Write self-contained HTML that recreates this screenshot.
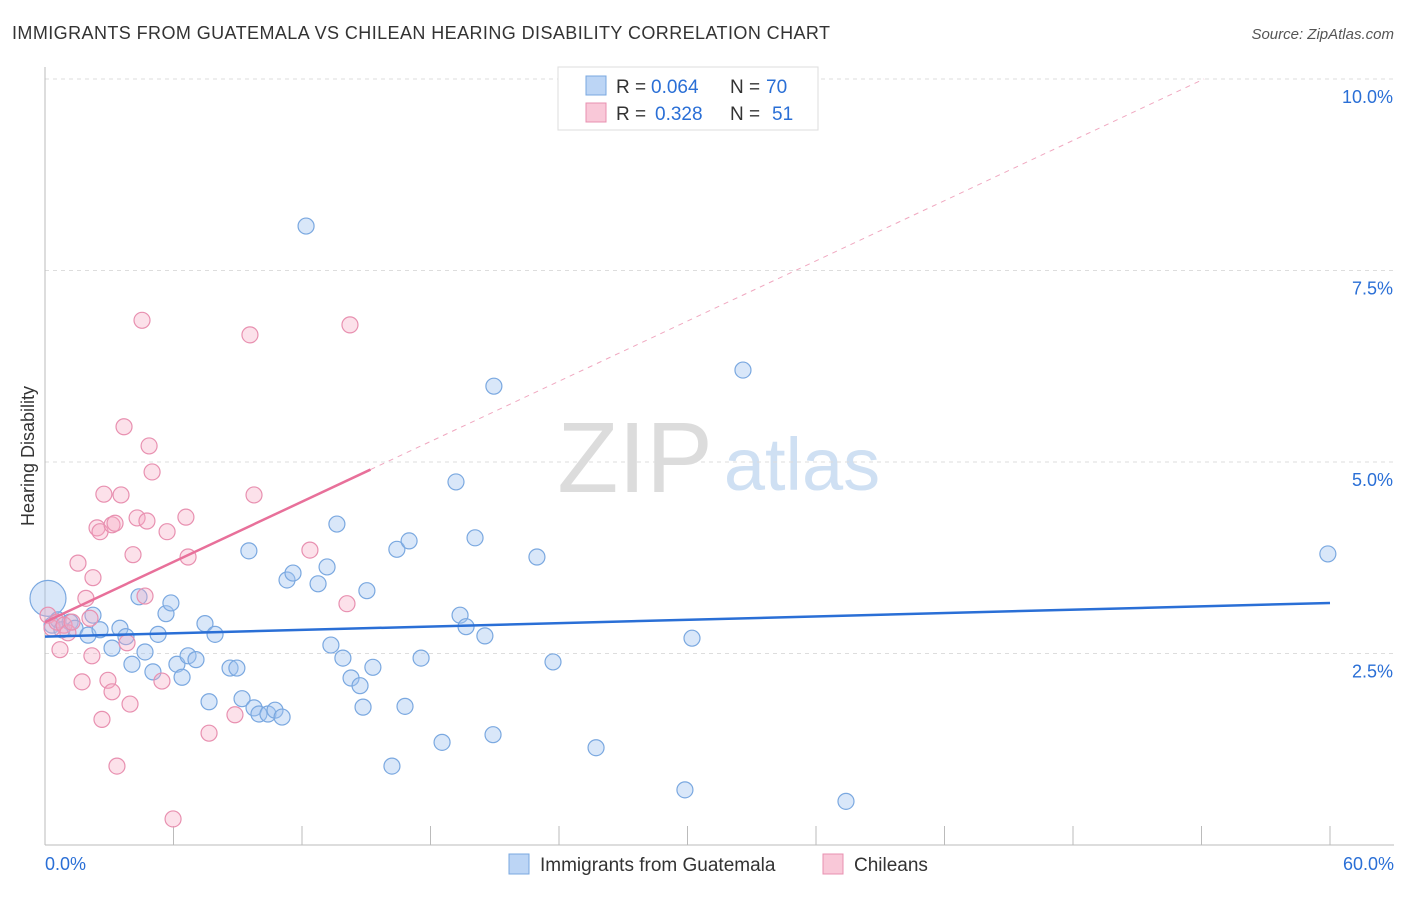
<!DOCTYPE html>
<html><head><meta charset="utf-8"><style>
body{margin:0;background:#fff;font-family:"Liberation Sans",sans-serif;}
svg text{font-family:"Liberation Sans",sans-serif;}
</style></head><body>
<svg id="chart" width="1406" height="892" xmlns="http://www.w3.org/2000/svg">
<text x="12" y="39" font-size="18" fill="#333" textLength="818">IMMIGRANTS FROM GUATEMALA VS CHILEAN HEARING DISABILITY CORRELATION CHART</text>
<text x="1394" y="39" font-size="15" fill="#555" text-anchor="end" font-style="italic">Source: ZipAtlas.com</text>
<text x="34" y="456" font-size="18" fill="#333" text-anchor="middle" transform="rotate(-90 34 456)">Hearing Disability</text>
<g>
<text x="635" y="492" font-size="100" fill="#dcdcdc" text-anchor="middle" font-family="Liberation Serif,serif">ZIP</text>
<text x="802" y="490" font-size="74" fill="#cfe0f3" text-anchor="middle">atlas</text>
</g>
<g id="grid"></g><g id="axes"></g><g id="pts"></g><g id="lines"></g>
<g>
<rect x="558" y="67" width="260" height="63" fill="#fff" stroke="#ddd"/>
<rect x="586" y="76" width="20" height="19" fill="#bcd5f5" stroke="#7aa8e0"/>
<rect x="586" y="103" width="20" height="19" fill="#f9c8d8" stroke="#e890b0"/>
<text x="616" y="93" font-size="19" fill="#333">R =</text>
<text x="651" y="93" font-size="19" fill="#2a6fd6">0.064</text>
<text x="730" y="93" font-size="19" fill="#333">N =</text>
<text x="766" y="93" font-size="19" fill="#2a6fd6">70</text>
<text x="616" y="120" font-size="19" fill="#333">R =</text>
<text x="655" y="120" font-size="19" fill="#2a6fd6">0.328</text>
<text x="730" y="120" font-size="19" fill="#333">N =</text>
<text x="772" y="120" font-size="19" fill="#2a6fd6">51</text>
</g>
<g>
<rect x="509" y="854" width="20" height="20" fill="#bcd5f5" stroke="#7aa8e0"/>
<text x="540" y="871" font-size="19" fill="#333">Immigrants from Guatemala</text>
<rect x="823" y="854" width="20" height="20" fill="#f9c8d8" stroke="#e890b0"/>
<text x="854" y="871" font-size="19" fill="#333">Chileans</text>
</g>
</svg>
<script>
const blueX=[0.14,0.33,0.61,0.79,1.17,1.4,2.01,2.24,2.57,3.13,3.5,3.78,4.06,4.39,4.67,5.04,5.28,5.65,5.88,6.16,6.4,6.68,7.05,7.47,7.94,8.64,8.96,7.66,9.2,9.52,9.76,9.99,10.41,10.74,11.07,11.3,11.58,12.19,12.75,13.17,13.35,13.63,13.91,14.29,14.71,14.85,15.03,15.31,16.43,16.2,16.81,17.0,17.56,18.54,19.19,19.38,19.66,20.08,20.54,20.92,20.96,22.97,23.72,25.73,29.88,30.21,32.59,37.4,59.9];
const blueY=[3.22,2.87,2.94,2.81,2.91,2.83,2.74,3.0,2.81,2.57,2.83,2.72,2.36,3.24,2.52,2.26,2.75,3.02,3.16,2.36,2.19,2.47,2.42,2.89,2.75,2.31,2.31,1.87,1.91,3.84,1.79,1.71,1.71,1.76,1.67,3.46,3.55,8.08,3.41,3.63,2.61,4.19,2.44,2.18,2.08,1.8,3.32,2.32,3.86,1.03,1.81,3.97,2.44,1.34,4.74,3.0,2.85,4.01,2.73,1.44,5.99,3.76,2.39,1.27,0.72,2.7,6.2,0.57,3.8];
const pinkX=[0.14,0.33,0.56,0.7,0.89,1.07,1.26,1.54,1.73,1.91,2.1,2.19,2.24,2.43,2.57,2.66,2.75,2.94,3.13,3.13,3.27,3.36,3.55,3.69,3.83,3.97,4.11,4.3,4.53,4.67,4.76,4.86,5.0,5.46,5.7,5.98,6.58,6.68,7.66,8.87,9.57,9.76,12.37,14.1,14.24];
const pinkY=[3.0,2.83,2.91,2.55,2.87,2.77,2.91,3.68,2.13,3.22,2.96,2.47,3.49,4.14,4.09,1.64,4.58,2.15,2.0,4.18,4.2,1.03,4.57,5.46,2.64,1.84,3.79,4.27,6.85,3.25,4.23,5.21,4.87,2.14,4.09,0.34,4.28,3.76,1.46,1.7,6.66,4.57,3.85,3.15,6.79];
const blueTrend=[2.72,3.16];
const pinkTrend=[2.91,0.131];
const yTicks=[2.5,5,7.5,10];
const xTickLabels=["0.0%","60.0%"];
const NS="http://www.w3.org/2000/svg";
const sx=v=>45+v/60*1285, sy=v=>845-v*76.6;
function mk(parent,tag,attrs){const e=document.createElementNS(NS,tag);for(const k in attrs)e.setAttribute(k,attrs[k]);document.getElementById(parent).appendChild(e);return e;}
yTicks.forEach(t=>{
 const l=mk('grid','line',{x1:45,x2:1394,y1:sy(t),y2:sy(t),stroke:'#ddd','stroke-dasharray':'4,4'});
 
 
 const tx=mk('grid','text',{x:1393,y:sy(t)+24,'font-size':18,fill:'#2a6fd6','text-anchor':'end'});
 tx.textContent=t.toFixed(1)+'%';
 
 
});
const ax=mk('axes','line',{x1:45,x2:45,y1:67,y2:845,stroke:'#bbb'});


const bx=mk('axes','line',{x1:45,x2:1394,y1:845,y2:845,stroke:'#bbb'});


for(let i=0;i<=10;i++){const t=mk('axes','line',{x1:sx(i*6),x2:sx(i*6),y1:826,y2:845,stroke:'#bbb'});
 
 }
[[0,'start',45],[60,'end',1394]].forEach((d,i)=>{const t=mk('axes','text',{x:d[2],y:870,'font-size':18,fill:'#2a6fd6','text-anchor':d[1]});t.textContent=xTickLabels[i];
 
 });
blueX.forEach((x,i)=>{const c=mk('pts','circle',{cx:sx(x),cy:sy(blueY[i]),r:i==0?18:8,fill:'rgba(160,195,240,0.4)',stroke:'#7aa8e0','stroke-width':1.2});
 
 });
pinkX.forEach((x,i)=>{const c=mk('pts','circle',{cx:sx(x),cy:sy(pinkY[i]),r:8,fill:'rgba(245,170,195,0.35)',stroke:'#e890b0','stroke-width':1.2});
 
 });
const bl=mk('lines','line',{x1:sx(0),y1:sy(blueTrend[0]),x2:sx(60),y2:sy(blueTrend[1]),stroke:'#2a6fd6','stroke-width':2.5});


const pEnd=15.2,pDash=(10-pinkTrend[0])/pinkTrend[1];
const pl=mk('lines','line',{x1:sx(0),y1:sy(pinkTrend[0]),x2:sx(pEnd),y2:sy(pinkTrend[0]+pinkTrend[1]*pEnd),stroke:'#e8709a','stroke-width':2.5});


const pd=mk('lines','line',{x1:sx(pEnd),y1:sy(pinkTrend[0]+pinkTrend[1]*pEnd),x2:sx(pDash),y2:sy(10),stroke:'#f0a8c0','stroke-width':1,'stroke-dasharray':'5,5'});


</script>
</body></html>
